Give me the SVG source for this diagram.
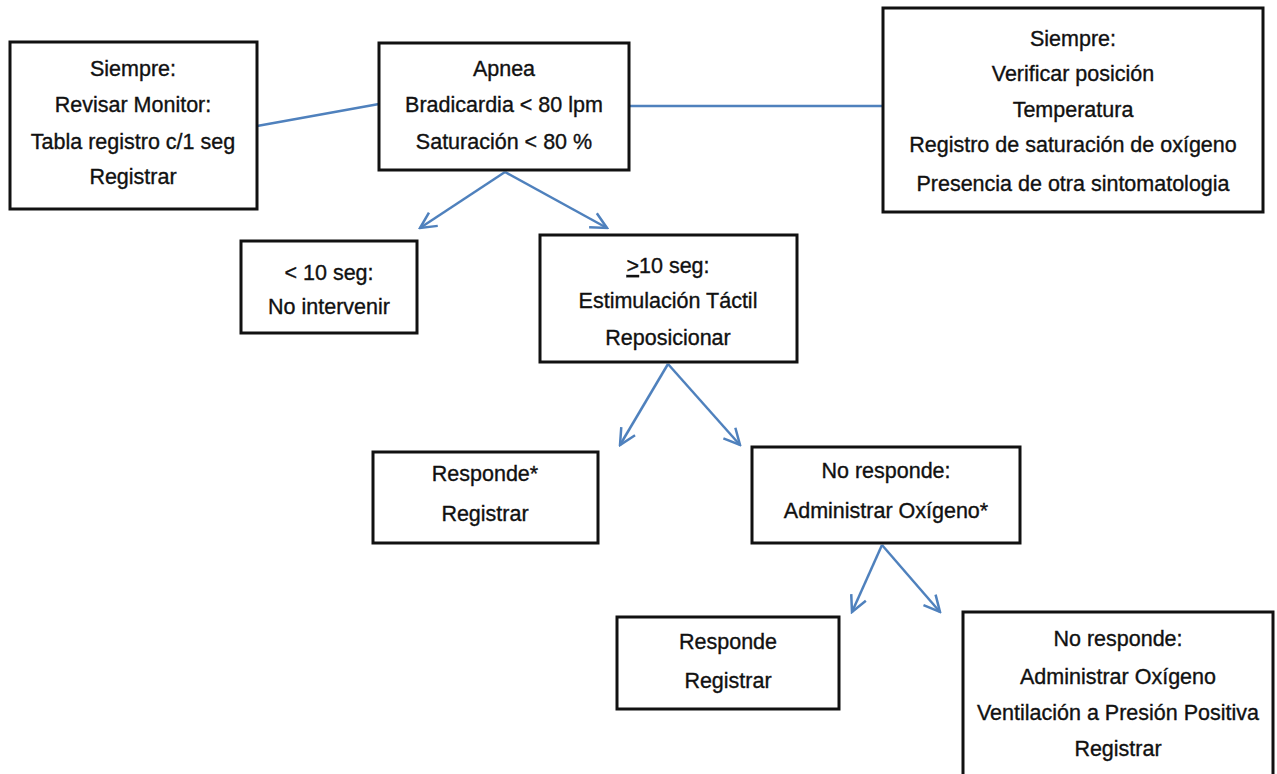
<svg xmlns="http://www.w3.org/2000/svg" width="1277" height="774" viewBox="0 0 1277 774">
<defs>
<marker id="ah2" viewBox="0 0 20 20" refX="18" refY="10" markerWidth="20" markerHeight="20" markerUnits="userSpaceOnUse" orient="auto">
<path d="M2,2 L18,10 L2,18" fill="none" stroke="#4f81bd" stroke-width="2.5"/>
</marker>
</defs>
<style>
.box{fill:#fff;stroke:#111;stroke-width:3}
.t{font-family:"Liberation Sans",Arial,sans-serif;font-size:21.5px;fill:#111;stroke:#111;stroke-width:0.35;text-anchor:middle}
.c{stroke:#4f81bd;stroke-width:2.5;fill:none}
</style>
<rect width="1277" height="774" fill="#fff"/>
<g id="connectors">
<line class="c" x1="257" y1="126" x2="379" y2="104"/>
<line class="c" x1="629" y1="106" x2="883" y2="106"/>
<line class="c" x1="505" y1="172" x2="420" y2="228" marker-end="url(#ah2)"/>
<line class="c" x1="505" y1="172" x2="607" y2="228" marker-end="url(#ah2)"/>
<line class="c" x1="668" y1="364" x2="620" y2="445" marker-end="url(#ah2)"/>
<line class="c" x1="668" y1="364" x2="740" y2="445" marker-end="url(#ah2)"/>
<line class="c" x1="882" y1="545" x2="852" y2="612" marker-end="url(#ah2)"/>
<line class="c" x1="882" y1="545" x2="940" y2="612" marker-end="url(#ah2)"/>
</g>
<g id="siempre-monitor">
<rect class="box" x="10" y="42" width="247" height="167"/>
<text class="t" x="133" y="76">Siempre:</text>
<text class="t" x="133" y="112">Revisar Monitor:</text>
<text class="t" x="133" y="149">Tabla registro c/1 seg</text>
<text class="t" x="133" y="184">Registrar</text>
</g>
<g id="apnea">
<rect class="box" x="379" y="43" width="250" height="127"/>
<text class="t" x="504" y="76">Apnea</text>
<text class="t" x="504" y="112">Bradicardia &lt; 80 lpm</text>
<text class="t" x="504" y="149">Saturación &lt; 80 %</text>
</g>
<g id="siempre-verificar">
<rect class="box" x="883" y="8" width="380" height="204"/>
<text class="t" x="1073" y="46">Siempre:</text>
<text class="t" x="1073" y="81">Verificar posición</text>
<text class="t" x="1073" y="117">Temperatura</text>
<text class="t" x="1073" y="152">Registro de saturación de oxígeno</text>
<text class="t" x="1073" y="191">Presencia de otra sintomatologia</text>
</g>
<g id="menos10">
<rect class="box" x="241" y="241" width="176" height="92"/>
<text class="t" x="329" y="280">&lt; 10 seg:</text>
<text class="t" x="329" y="314">No intervenir</text>
</g>
<g id="mas10">
<rect class="box" x="540" y="235" width="257" height="127"/>
<text class="t" x="668" y="273"><tspan text-decoration="underline">&gt;</tspan>10 seg:</text>
<text class="t" x="668" y="308">Estimulación Táctil</text>
<text class="t" x="668" y="345">Reposicionar</text>
</g>
<g id="responde1">
<rect class="box" x="373" y="452" width="225" height="91"/>
<text class="t" x="485" y="481">Responde*</text>
<text class="t" x="485" y="521">Registrar</text>
</g>
<g id="noresponde1">
<rect class="box" x="752" y="447" width="268" height="96"/>
<text class="t" x="886" y="478">No responde:</text>
<text class="t" x="886" y="518">Administrar Oxígeno*</text>
</g>
<g id="responde2">
<rect class="box" x="617" y="617" width="222" height="92"/>
<text class="t" x="728" y="649">Responde</text>
<text class="t" x="728" y="688">Registrar</text>
</g>
<g id="noresponde2">
<rect class="box" x="963" y="612" width="310" height="172"/>
<text class="t" x="1118" y="646">No responde:</text>
<text class="t" x="1118" y="684">Administrar Oxígeno</text>
<text class="t" x="1118" y="720">Ventilación a Presión Positiva</text>
<text class="t" x="1118" y="756">Registrar</text>
</g>
</svg>
